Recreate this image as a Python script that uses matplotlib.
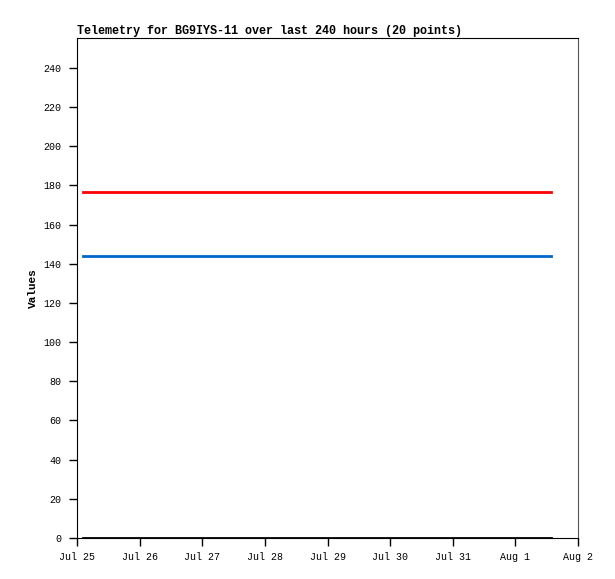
import matplotlib
matplotlib.use("Agg")
import matplotlib.pyplot as plt
import matplotlib.dates as mdates
import pandas as pd

# 20 telemetry points (timestamps)
times = pd.to_datetime([
    "2024-07-25 02:20", "2024-07-25 11:40", "2024-07-25 21:00", "2024-07-26 06:20",
    "2024-07-26 15:40", "2024-07-27 01:00", "2024-07-27 10:20", "2024-07-27 19:40",
    "2024-07-28 05:00", "2024-07-28 14:20", "2024-07-28 23:40", "2024-07-29 09:00",
    "2024-07-29 18:20", "2024-07-30 03:40", "2024-07-30 13:00", "2024-07-30 22:20",
    "2024-07-31 07:40", "2024-07-31 17:00", "2024-08-01 02:20", "2024-08-01 13:40",
])
red_vals = [176.5] * 20
blue_vals = [144.0] * 20
black_vals = [0.0] * 20

plt.rcParams['font.family'] = ['Liberation Mono', 'DejaVu Sans Mono']

fig = plt.figure(figsize=(6.15, 5.79), dpi=100)
ax = fig.add_axes([77 / 615, 41 / 579, 501 / 615, 500 / 579])

ax.plot(times, red_vals, color="#ff0000", lw=2)
ax.plot(times, blue_vals, color="#0066cc", lw=2)
ax.plot(times, black_vals, color="#000000", lw=2)

ax.set_xlim(pd.Timestamp("2024-07-25"), pd.Timestamp("2024-08-02"))
ax.set_ylim(0, 255.3)
ax.set_yticks(range(0, 241, 20))
ax.xaxis.set_major_locator(mdates.DayLocator())
ax.xaxis.set_major_formatter(mdates.DateFormatter("%b %-d"))

ax.tick_params(direction="out", length=6, width=1, labelsize=7.2, pad=5)
ax.tick_params(axis="x", pad=4)
ax.spines["right"].set_color("#555555")
ax.set_ylabel("Values", fontsize=8, fontweight="bold", labelpad=4)
ax.set_title("Telemetry for BG9IYS-11 over last 240 hours (20 points)",
             fontsize=8.5, fontweight="bold", loc="left", pad=3)

fig.savefig("out.png", dpi=100)
